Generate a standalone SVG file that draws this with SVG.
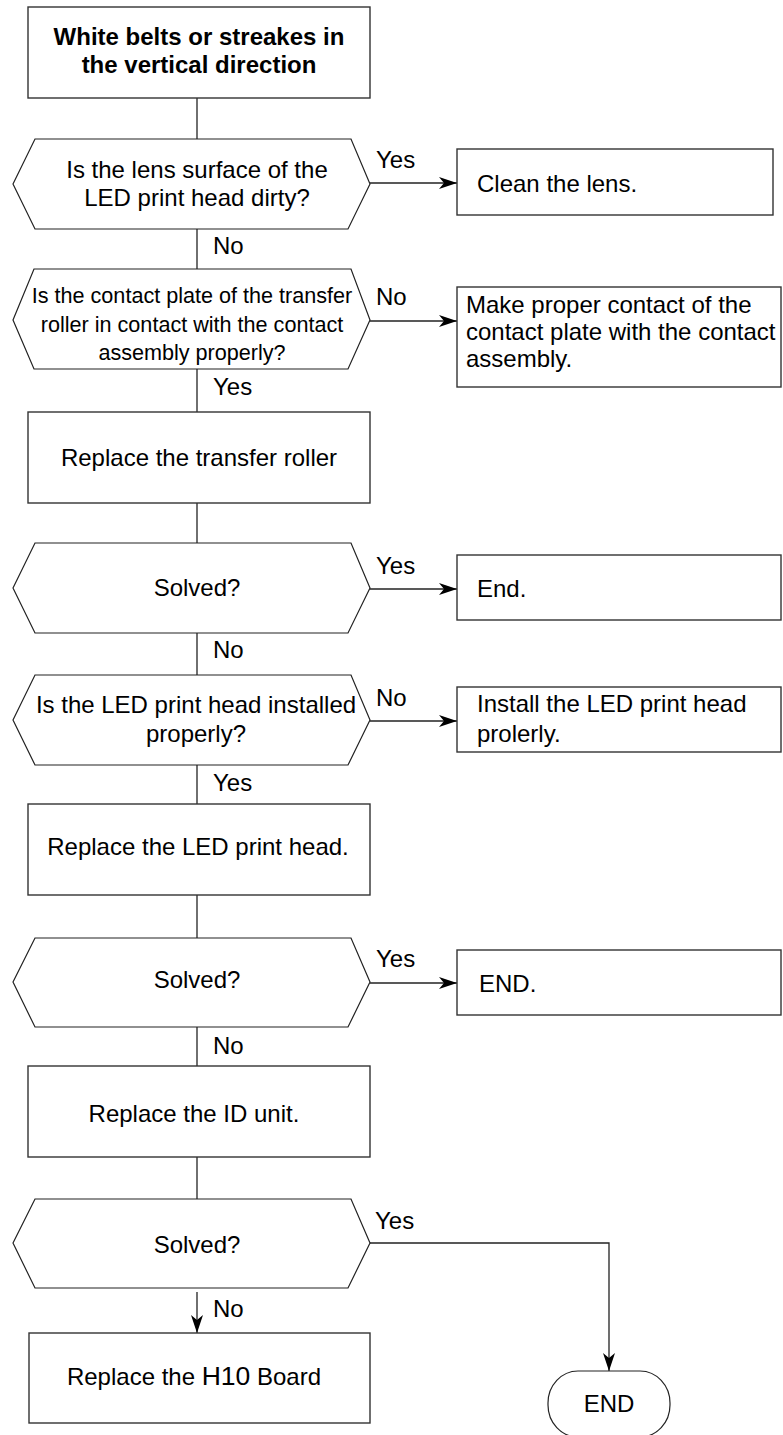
<svg xmlns="http://www.w3.org/2000/svg" width="783" height="1435" viewBox="0 0 783 1435">
<style>
  .box { fill: #fff; stroke: #333; stroke-width: 1.4; }
  .dec { fill: #fff; stroke: #222; stroke-width: 1.2; }
  .line { fill: none; stroke: #222; stroke-width: 1.3; }
  .t { font-family: "Liberation Sans", Arial, sans-serif; font-size: 24px; fill: #000; }
  .c { text-anchor: middle; }
  .b { font-weight: bold; }
</style>
<defs>
  <marker id="arr" markerUnits="userSpaceOnUse" markerWidth="20" markerHeight="14" refX="18" refY="6" orient="auto">
    <path d="M0,0 L18,6 L0,12 L5,6 Z" fill="#000"/>
  </marker>
</defs>

<g id="connectors">
  <line class="line" x1="197" y1="98" x2="197" y2="139"/>
  <line class="line" x1="197" y1="229" x2="197" y2="269"/>
  <line class="line" x1="197" y1="369" x2="197" y2="412"/>
  <line class="line" x1="197" y1="503" x2="197" y2="543"/>
  <line class="line" x1="197" y1="633" x2="197" y2="675"/>
  <line class="line" x1="197" y1="765" x2="197" y2="804"/>
  <line class="line" x1="197" y1="895" x2="197" y2="938"/>
  <line class="line" x1="197" y1="1027" x2="197" y2="1066"/>
  <line class="line" x1="197" y1="1157" x2="197" y2="1199"/>
  <line class="line" x1="197" y1="1292" x2="197" y2="1333" marker-end="url(#arr)"/>
  <line class="line" x1="370" y1="183" x2="457" y2="183" marker-end="url(#arr)"/>
  <line class="line" x1="370" y1="321" x2="457" y2="321" marker-end="url(#arr)"/>
  <line class="line" x1="370" y1="589" x2="457" y2="589" marker-end="url(#arr)"/>
  <line class="line" x1="370" y1="721" x2="457" y2="721" marker-end="url(#arr)"/>
  <line class="line" x1="370" y1="983" x2="457" y2="983" marker-end="url(#arr)"/>
  <polyline class="line" points="370,1243 609,1243 609,1371" marker-end="url(#arr)"/>
  <text class="t" x="213" y="254">No</text>
  <text class="t" x="213" y="395">Yes</text>
  <text class="t" x="213" y="658">No</text>
  <text class="t" x="213" y="791">Yes</text>
  <text class="t" x="213" y="1054">No</text>
  <text class="t" x="213" y="1317">No</text>
  <text class="t" x="376" y="168">Yes</text>
  <text class="t" x="376" y="305">No</text>
  <text class="t" x="376" y="574">Yes</text>
  <text class="t" x="376" y="706">No</text>
  <text class="t" x="376" y="967">Yes</text>
  <text class="t" x="375" y="1229">Yes</text>
</g>

<g id="start">
  <rect class="box" x="28" y="7" width="342" height="91"/>
  <text class="t c b" x="199" y="45">White belts or streakes in</text>
  <text class="t c b" x="199" y="73">the vertical direction</text>
</g>

<g id="q-lens">
  <polygon class="dec" points="13,184 35,139 351,139 370,184 348,229 35,229"/>
  <text class="t c" x="197" y="178">Is the lens surface of the</text>
  <text class="t c" x="197" y="206">LED print head dirty?</text>
</g>

<g id="clean-lens">
  <rect class="box" x="457" y="149" width="316" height="66"/>
  <text class="t" x="477" y="192">Clean the lens.</text>
</g>

<g id="q-contact">
  <polygon class="dec" points="13,320 34,269 351,269 370,320 348,369 34,369"/>
  <text class="t c" x="192" y="303" style="font-size:21.6px">Is the contact plate of the transfer</text>
  <text class="t c" x="192" y="332" style="font-size:21.6px">roller in contact with the contact</text>
  <text class="t c" x="192" y="360" style="font-size:21.6px">assembly properly?</text>
</g>

<g id="make-contact">
  <rect class="box" x="457" y="287" width="324" height="100"/>
  <text class="t" x="466" y="313">Make proper contact of the</text>
  <text class="t" x="466" y="340">contact plate with the contact</text>
  <text class="t" x="466" y="367">assembly.</text>
</g>

<g id="replace-roller">
  <rect class="box" x="28" y="412" width="342" height="91"/>
  <text class="t c" x="199" y="466">Replace the transfer roller</text>
</g>

<g id="q-solved-1">
  <polygon class="dec" points="13,588 35,543 351,543 370,588 348,633 35,633"/>
  <text class="t c" x="197" y="596">Solved?</text>
</g>

<g id="end-1">
  <rect class="box" x="457" y="555" width="324" height="65"/>
  <text class="t" x="477" y="597">End.</text>
</g>

<g id="q-installed">
  <polygon class="dec" points="13,720 35,675 351,675 370,720 348,765 35,765"/>
  <text class="t c" x="196" y="713">Is the LED print head installed</text>
  <text class="t c" x="196" y="742">properly?</text>
</g>

<g id="install-head">
  <rect class="box" x="457" y="687" width="324" height="65"/>
  <text class="t" x="477" y="712">Install the LED print head</text>
  <text class="t" x="477" y="742">prolerly.</text>
</g>

<g id="replace-head">
  <rect class="box" x="28" y="804" width="342" height="91"/>
  <text class="t c" x="198" y="855">Replace the LED print head.</text>
</g>

<g id="q-solved-2">
  <polygon class="dec" points="13,982 35,938 351,938 370,982 348,1027 35,1027"/>
  <text class="t c" x="197" y="988">Solved?</text>
</g>

<g id="end-2">
  <rect class="box" x="457" y="950" width="324" height="65"/>
  <text class="t" x="479" y="992">END.</text>
</g>

<g id="replace-id">
  <rect class="box" x="28" y="1066" width="342" height="91"/>
  <text class="t c" x="194" y="1122">Replace the ID unit.</text>
</g>

<g id="q-solved-3">
  <polygon class="dec" points="13,1243 35,1199 351,1199 370,1243 348,1288 35,1288"/>
  <text class="t c" x="197" y="1253">Solved?</text>
</g>

<g id="replace-h10">
  <rect class="box" x="29" y="1333" width="341" height="90"/>
  <text class="t c" x="194" y="1385">Replace the <tspan style="font-size:26.5px">H10</tspan> Board</text>
</g>

<g id="end-terminal">
  <rect class="dec" x="548" y="1371" width="122" height="66" rx="30" ry="32"/>
  <text class="t c" x="609" y="1412">END</text>
</g>
</svg>
